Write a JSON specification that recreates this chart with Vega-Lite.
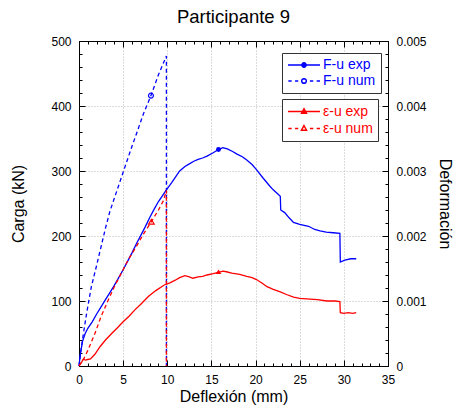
{
  "$schema": "https://vega.github.io/schema/vega-lite/v6.json",
  "width": 309,
  "height": 325,
  "autosize": {"type": "none"},
  "padding": {"left": 79, "top": 41, "right": 71, "bottom": 50},
  "title": {"text": "Participante 9", "fontSize": 18.5, "font": "Liberation Sans", "fontWeight": "normal", "color": "#000", "offset": 9, "anchor": "middle"},
  "config": {
    "font": "Liberation Sans",
    "view": {"stroke": "#000", "strokeWidth": 1},
    "axis": {"labelFont": "Liberation Sans", "titleFont": "Liberation Sans", "labelColor": "#000", "titleColor": "#000", "tickColor": "#000", "labelFontSize": 12, "titleFontSize": 16, "titleFontWeight": "normal", "labelFlush": false, "labelOverlap": false, "gridColor": "#b8b8b8", "gridDash": [1, 2], "tickWidth": 1}
  },
  "datasets": {
    "bexp": [
      {"d":0,"v":0},{"d":0.15,"v":18},{"d":0.4,"v":38},{"d":0.7,"v":50},{"d":1.0,"v":58},{"d":1.5,"v":68},{"d":2.0,"v":80},{"d":2.5,"v":91},{"d":3.0,"v":102},{"d":3.5,"v":113},{"d":4.0,"v":124},{"d":4.5,"v":136},{"d":5.0,"v":148},{"d":5.5,"v":161},{"d":6.0,"v":174},{"d":6.5,"v":188},{"d":7.0,"v":201},{"d":7.5,"v":214},{"d":8.0,"v":228},{"d":8.5,"v":241},{"d":9.0,"v":253},{"d":9.5,"v":263},{"d":9.9,"v":271},{"d":10.5,"v":282},{"d":11.0,"v":292},{"d":11.4,"v":300},{"d":12.0,"v":307},{"d":12.5,"v":311},{"d":13.0,"v":315},{"d":13.5,"v":318},{"d":14.0,"v":320},{"d":14.5,"v":323},{"d":15.2,"v":328},{"d":15.8,"v":333},{"d":16.3,"v":336},{"d":16.8,"v":334},{"d":17.4,"v":330},{"d":17.9,"v":326},{"d":18.5,"v":322},{"d":19.0,"v":317},{"d":19.6,"v":310},{"d":20.1,"v":302},{"d":20.8,"v":290},{"d":21.6,"v":277},{"d":22.0,"v":271},{"d":22.4,"v":266},{"d":22.8,"v":261},{"d":22.85,"v":240},{"d":23.3,"v":236},{"d":23.8,"v":228},{"d":24.3,"v":221},{"d":25.0,"v":218},{"d":26.0,"v":215},{"d":26.7,"v":210},{"d":27.3,"v":208},{"d":28.0,"v":206},{"d":28.8,"v":205},{"d":29.55,"v":204},{"d":29.6,"v":160},{"d":30.1,"v":163},{"d":30.8,"v":165},{"d":31.4,"v":165}
    ],
    "bnum": [
      {"i":0,"d":0,"v":0},{"i":1,"d":0.2,"v":22},{"i":2,"d":0.5,"v":50},{"i":3,"d":0.9,"v":84},{"i":4,"d":1.4,"v":122},{"i":5,"d":2.0,"v":155},{"i":6,"d":2.4,"v":178},{"i":7,"d":3.0,"v":212},{"i":8,"d":3.5,"v":238},{"i":9,"d":4.0,"v":258},{"i":10,"d":5.0,"v":298},{"i":11,"d":6.0,"v":338},{"i":12,"d":6.5,"v":357},{"i":13,"d":7.3,"v":388},{"i":14,"d":8.15,"v":416},{"i":15,"d":9.0,"v":448},{"i":16,"d":9.9,"v":477},{"i":17,"d":9.9,"v":0}
    ],
    "rexp": [
      {"d":0,"e":0},{"d":0.3,"e":0.00006},{"d":0.5,"e":0.00011},{"d":0.7,"e":0.00009},{"d":1.0,"e":0.0001},{"d":1.3,"e":0.00011},{"d":1.8,"e":0.00018},{"d":2.4,"e":0.0003},{"d":3.0,"e":0.0004},{"d":3.7,"e":0.0005},{"d":4.3,"e":0.00058},{"d":5.0,"e":0.00068},{"d":5.7,"e":0.00077},{"d":6.3,"e":0.00086},{"d":7.0,"e":0.00095},{"d":7.85,"e":0.00107},{"d":8.7,"e":0.00116},{"d":9.7,"e":0.00125},{"d":10.3,"e":0.00128},{"d":10.9,"e":0.00132},{"d":11.4,"e":0.00136},{"d":12.0,"e":0.00139},{"d":12.5,"e":0.00137},{"d":12.9,"e":0.00135},{"d":13.5,"e":0.00137},{"d":14.0,"e":0.00138},{"d":14.5,"e":0.0014},{"d":15.2,"e":0.00142},{"d":15.8,"e":0.00144},{"d":16.3,"e":0.00146},{"d":16.7,"e":0.00145},{"d":17.3,"e":0.00143},{"d":18.2,"e":0.00141},{"d":19.0,"e":0.00138},{"d":19.6,"e":0.00136},{"d":20.1,"e":0.00133},{"d":20.8,"e":0.00127},{"d":21.3,"e":0.00122},{"d":22.0,"e":0.00118},{"d":22.8,"e":0.00114},{"d":23.5,"e":0.0011},{"d":24.3,"e":0.00106},{"d":25.0,"e":0.00104},{"d":26.2,"e":0.00103},{"d":27.0,"e":0.00102},{"d":28.1,"e":0.001},{"d":29.0,"e":0.001},{"d":29.55,"e":0.00099},{"d":29.6,"e":0.00082},{"d":30.0,"e":0.00081},{"d":30.5,"e":0.00082},{"d":31.0,"e":0.00081},{"d":31.4,"e":0.00082}
    ],
    "rnum": [
      {"i":0,"d":0,"e":0},{"i":1,"d":0.5,"e":0.0001},{"i":2,"d":1.0,"e":0.00024},{"i":3,"d":1.8,"e":0.0005},{"i":4,"d":2.5,"e":0.00076},{"i":5,"d":3.3,"e":0.00101},{"i":6,"d":4.0,"e":0.00122},{"i":7,"d":4.8,"e":0.00143},{"i":8,"d":5.6,"e":0.00164},{"i":9,"d":6.5,"e":0.00184},{"i":10,"d":7.3,"e":0.00203},{"i":11,"d":8.2,"e":0.00222},{"i":12,"d":9.0,"e":0.0024},{"i":13,"d":9.55,"e":0.00254},{"i":14,"d":9.9,"e":0.0027},{"i":15,"d":9.9,"e":0}
    ],
    "bmkexp": [{"d":15.8,"v":333,"s":"F-u exp"}],
    "bmknum": [{"d":8.15,"v":416,"s":"F-u num"}],
    "rmkexp": [{"d":15.8,"e":0.00145,"s":"ε-u exp"}],
    "rmknum": [{"d":8.2,"e":0.00222,"s":"ε-u num"}]
  },
  "layer": [
    {
      "layer": [
        {
          "data": {"name": "bexp"},
          "mark": {"type": "line", "color": "#0000ff", "strokeWidth": 1.3},
          "encoding": {
            "x": {"field": "d", "type": "quantitative", "scale": {"domain": [0, 35], "nice": false, "zero": false},
              "axis": {"orient": "bottom", "title": "Deflexión (mm)", "values": [0, 5, 10, 15, 20, 25, 30, 35], "tickSize": -6, "labelPadding": 14, "titlePadding": 3, "grid": true, "gridOpacity": {"condition": {"test": "datum.value == 0 || datum.value == 35", "value": 0}, "value": 1}, "domain": false}},
            "y": {"field": "v", "type": "quantitative", "scale": {"domain": [0, 500], "nice": false},
              "axis": {"orient": "left", "title": "Carga (kN)", "values": [0, 100, 200, 300, 400, 500], "tickSize": -6, "labelPadding": 14, "titlePadding": 24, "grid": true, "gridOpacity": {"condition": {"test": "datum.value == 0 || datum.value == 500", "value": 0}, "value": 1}, "domain": false}}
          }
        },
        {
          "data": {"name": "bnum"},
          "mark": {"type": "line", "color": "#0000ff", "strokeWidth": 1.3, "strokeDash": [4, 3]},
          "encoding": {
            "x": {"field": "d", "type": "quantitative",
              "axis": {"orient": "bottom", "title": null, "values": [0,1,2,3,4,5,6,7,8,9,10,11,12,13,14,15,16,17,18,19,20,21,22,23,24,25,26,27,28,29,30,31,32,33,34,35], "tickSize": -3, "labels": false, "grid": false, "domain": false}},
            "y": {"field": "v", "type": "quantitative",
              "axis": {"orient": "left", "title": null, "values": [0,20,40,60,80,100,120,140,160,180,200,220,240,260,280,300,320,340,360,380,400,420,440,460,480,500], "tickSize": -3, "labels": false, "grid": false, "domain": false}},
            "order": {"field": "i", "type": "quantitative"}
          }
        },
        {
          "data": {"name": "bmkexp"},
          "mark": {"type": "point", "shape": "circle", "filled": true, "size": 24, "opacity": 1},
          "encoding": {
            "x": {"field": "d", "type": "quantitative",
              "axis": {"orient": "top", "title": null, "values": [0, 5, 10, 15, 20, 25, 30, 35], "tickSize": -6, "labels": false, "grid": false, "domain": false}},
            "y": {"field": "v", "type": "quantitative", "axis": null},
            "color": {"field": "s", "type": "nominal", "scale": {"domain": ["F-u exp", "F-u num"], "range": ["#0000ff", "#0000ff"]},
              "legend": {"orient": "none", "legendX": 203, "legendY": 12, "title": null, "padding": 5, "fillColor": "#ffffff", "strokeColor": "#333333", "clipHeight": 14, "rowPadding": 2, "labelFontSize": 14, "labelColor": "#0000ff", "labelOffset": 2, "symbolSize": 1024, "labelFont": "Liberation Sans",
                "symbolType": {"expr": "datum.value === 'F-u exp' ? 'M-1,0L1,0M0.14,0A0.14,0.14,0,1,1,-0.14,0A0.14,0.14,0,1,1,0.14,0Z' : 'M-0.98,0L-0.77,0M-0.56,0L-0.36,0M0.37,0L0.58,0M0.79,0L1,0M0.15,0A0.15,0.15,0,1,1,-0.15,0A0.15,0.15,0,1,1,0.15,0ZM0.14,0A0.14,0.14,0,1,0,-0.14,0A0.14,0.14,0,1,0,0.14,0Z'"},
                "symbolStrokeColor": "#0000ff", "symbolStrokeWidth": 1.3, "symbolOpacity": 1}
            }
          }
        },
        {
          "data": {"name": "bmknum"},
          "mark": {"type": "point", "shape": "circle", "filled": false, "size": 24, "color": "#0000ff", "strokeWidth": 1.2, "opacity": 1},
          "encoding": {
            "x": {"field": "d", "type": "quantitative",
              "axis": {"orient": "top", "title": null, "values": [0,1,2,3,4,5,6,7,8,9,10,11,12,13,14,15,16,17,18,19,20,21,22,23,24,25,26,27,28,29,30,31,32,33,34,35], "tickSize": -3, "labels": false, "grid": false, "domain": false}},
            "y": {"field": "v", "type": "quantitative", "axis": null}
          }
        }
      ],
      "resolve": {"axis": {"x": "independent", "y": "independent"}}
    },
    {
      "layer": [
        {
          "data": {"name": "rexp"},
          "mark": {"type": "line", "color": "#ff0000", "strokeWidth": 1.3},
          "encoding": {
            "x": {"field": "d", "type": "quantitative", "axis": null},
            "y": {"field": "e", "type": "quantitative", "scale": {"domain": [0, 0.005], "nice": false},
              "axis": {"orient": "right", "title": "Deformación", "values": [0, 0.001, 0.002, 0.003, 0.004, 0.005], "format": "~g", "tickSize": -6, "labelPadding": 14, "titlePadding": 10, "grid": false, "domain": false}}
          }
        },
        {
          "data": {"name": "rnum"},
          "mark": {"type": "line", "color": "#ff0000", "strokeWidth": 1.3, "strokeDash": [4, 3]},
          "encoding": {
            "x": {"field": "d", "type": "quantitative", "axis": null},
            "y": {"field": "e", "type": "quantitative",
              "axis": {"orient": "right", "title": null, "values": [0,0.0002,0.0004,0.0006,0.0008,0.001,0.0012,0.0014,0.0016,0.0018,0.002,0.0022,0.0024,0.0026,0.0028,0.003,0.0032,0.0034,0.0036,0.0038,0.004,0.0042,0.0044,0.0046,0.0048,0.005], "tickSize": -3, "labels": false, "grid": false, "domain": false}},
            "order": {"field": "i", "type": "quantitative"}
          }
        },
        {
          "data": {"name": "rmkexp"},
          "mark": {"type": "point", "shape": "triangle-up", "filled": true, "size": 30, "opacity": 1},
          "encoding": {
            "x": {"field": "d", "type": "quantitative", "axis": null},
            "y": {"field": "e", "type": "quantitative", "axis": null},
            "color": {"field": "s", "type": "nominal", "scale": {"domain": ["ε-u exp", "ε-u num"], "range": ["#ff0000", "#ff0000"]},
              "legend": {"orient": "none", "legendX": 203, "legendY": 58, "title": null, "padding": 5, "fillColor": "#ffffff", "strokeColor": "#333333", "clipHeight": 15, "rowPadding": 2, "labelFontSize": 14, "labelColor": "#ff0000", "labelOffset": 2, "symbolSize": 1024, "labelFont": "Liberation Sans",
                "symbolType": {"expr": "datum.value === 'ε-u exp' ? 'M-1,0L1,0M0,-0.18L0.16,0.11L-0.16,0.11Z' : 'M-0.98,0L-0.77,0M-0.56,0L-0.36,0M0.37,0L0.58,0M0.79,0L1,0M0,-0.19L0.17,0.12L-0.17,0.12ZM0,-0.17L-0.15,0.11L0.15,0.11Z'"},
                "symbolStrokeColor": "#ff0000", "symbolStrokeWidth": 1.3, "symbolOpacity": 1}
            }
          }
        },
        {
          "data": {"name": "rmknum"},
          "mark": {"type": "point", "shape": "triangle-up", "filled": false, "size": 30, "color": "#ff0000", "strokeWidth": 1.2, "opacity": 1},
          "encoding": {
            "x": {"field": "d", "type": "quantitative", "axis": null},
            "y": {"field": "e", "type": "quantitative", "axis": null}
          }
        }
      ],
      "resolve": {"axis": {"x": "independent", "y": "independent"}}
    }
  ],
  "resolve": {"scale": {"y": "independent", "color": "independent"}, "axis": {"x": "independent", "y": "independent"}}
}
